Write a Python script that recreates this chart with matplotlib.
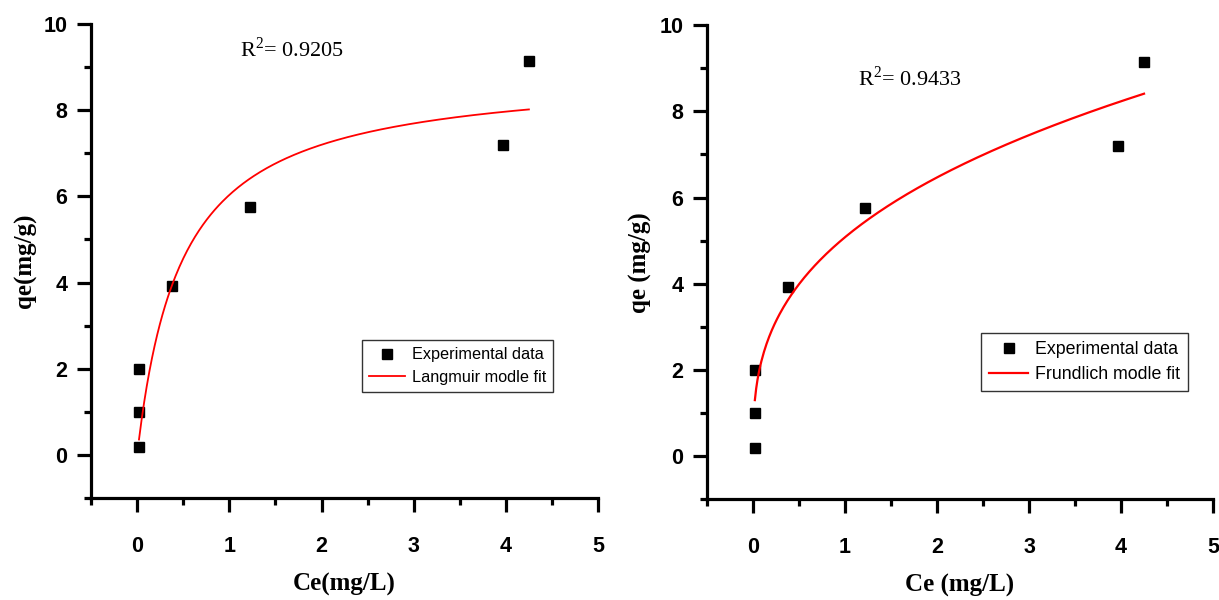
import numpy as np
import matplotlib
matplotlib.use('Agg')
import matplotlib.pyplot as plt
from matplotlib.ticker import MultipleLocator

plt.rcParams['mathtext.fontset'] = 'custom'
plt.rcParams['mathtext.rm'] = 'Liberation Serif'

# ── Data ─────────────────────────────────────────────────────────────────────
ce = [0.02, 0.02, 0.02, 0.38, 1.22, 3.97, 4.25]   # mg/L
qe = [0.18, 1.00, 2.00, 3.92, 5.75, 7.20, 9.15]   # mg/g

# model parameters
qm_L, K_L = 8.92, 2.09          # Langmuir
K_F, n_F = 5.08, 2.87           # Freundlich
r2_langmuir = 0.9205
r2_freundlich = 0.9433
c_fit = np.linspace(0.02, 4.25, 300)
q_langmuir = qm_L * K_L * c_fit / (1 + K_L * c_fit)
q_freundlich = K_F * c_fit ** (1 / n_F)

# ── Figure ───────────────────────────────────────────────────────────────────
fig = plt.figure(figsize=(12.19, 6.0), dpi=100)
ax1 = fig.add_axes([0.0747, 0.170, 0.4159, 0.790])
ax2 = fig.add_axes([0.5800, 0.168, 0.4151, 0.790])

SANS = 'Liberation Sans'
SERIF = 'Liberation Serif'


def style(ax, ylabel, xlabel):
    ax.set_xlim(-0.5, 5)
    ax.set_ylim(-1, 10)
    for s in ['top', 'right']:
        ax.spines[s].set_visible(False)
    for s in ['left', 'bottom']:
        ax.spines[s].set_linewidth(2.3)
    ax.xaxis.set_minor_locator(MultipleLocator(0.5))
    ax.yaxis.set_minor_locator(MultipleLocator(1))
    ax.tick_params(which='major', direction='out', length=10, width=2.3)
    ax.tick_params(which='minor', direction='out', length=5, width=2.3)
    ax.tick_params(axis='x', which='major', pad=17)
    ax.tick_params(axis='y', which='major', pad=7)
    ax.set_xticks([0, 1, 2, 3, 4, 5])
    ax.set_xticklabels(['0', '1', '2', '3', '4', '5'], fontfamily=SANS,
                       fontweight='bold', fontsize=15.5)
    ax.set_yticks([0, 2, 4, 6, 8, 10])
    ax.set_yticklabels(['0', '2', '4', '6', '8', '10'], fontfamily=SANS,
                       fontweight='bold', fontsize=15.5)
    ax.set_ylabel(ylabel, fontfamily=SERIF, fontweight='bold', fontsize=18, labelpad=5)
    ax.set_xlabel(xlabel, fontfamily=SERIF, fontweight='bold', fontsize=18, labelpad=12)


def legend(ax, anchor, size):
    leg = ax.legend(loc='upper left', bbox_to_anchor=anchor, frameon=True,
                    fancybox=False, edgecolor='black', prop={'family': SANS, 'size': size},
                    borderpad=0.45, handlelength=2.2, handletextpad=0.4, labelspacing=0.45,
                    borderaxespad=0)
    leg.get_frame().set_linewidth(1.0)


# Panel 1: Langmuir
style(ax1, 'qe(mg/g)', 'Ce(mg/L)')
ax1.plot(ce, qe, 's', color='black', ms=6.5, label='Experimental data')
ax1.plot(c_fit, q_langmuir, color='red', lw=1.3, label='Langmuir modle fit')
ax1.text(1.12, 9.23, f'R$^{{2}}$= {r2_langmuir:.4f}', fontfamily=SERIF, fontsize=16)
legend(ax1, (0.5345, 0.333), 11.7)

# Panel 2: Freundlich
style(ax2, 'qe (mg/g)', 'Ce (mg/L)')
ax2.plot(ce, qe, 's', color='black', ms=6.5, label='Experimental data')
ax2.plot(c_fit, q_freundlich, color='red', lw=1.6, label='Frundlich modle fit')
ax2.text(1.14, 8.6, f'R$^{{2}}$= {r2_freundlich:.4f}', fontfamily=SERIF, fontsize=16)
legend(ax2, (0.5415, 0.350), 12.8)

plt.savefig('out.png', dpi=100, facecolor='white')
plt.close()
